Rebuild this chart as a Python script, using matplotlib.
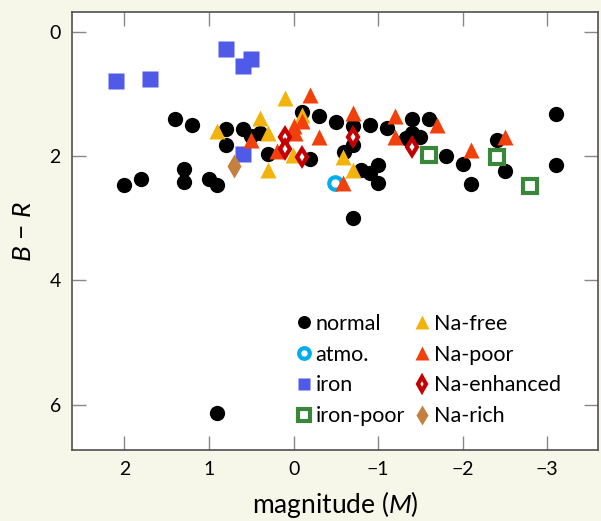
import matplotlib.pyplot as plt

plt.rcParams['font.family'] = ['Lato', 'DejaVu Sans']
plt.rcParams['mathtext.fontset'] = 'custom'
plt.rcParams['mathtext.it'] = 'Lato:italic'
plt.rcParams['mathtext.rm'] = 'Lato'

# magnitude (M) and B - R colour for each group
normal_M = [2.0, 1.8, 1.4, 1.2, 1.3, 1.3, 1.0, 0.9, 0.8, 0.8, 0.6, 0.5, 0.4, 0.3,
            0.9, -0.1, -0.3, -0.2, -0.5, -0.7, -0.7, -0.6, -0.7, -0.9, -1.1, -0.8,
            -0.9, -1.0, -1.0, -1.4, -1.6, -1.33, -1.4, -1.5, -1.8, -2.0, -2.1,
            -2.4, -2.5, -3.1, -3.1]
normal_BR = [2.46, 2.37, 1.41, 1.50, 2.21, 2.42, 2.36, 2.47, 1.57, 1.82, 1.56, 1.67,
             1.63, 1.97, 6.14, 1.29, 1.36, 2.04, 1.45, 1.52, 1.82, 1.93, 3.0, 1.50,
             1.54, 2.23, 2.27, 2.15, 2.43, 1.41, 1.41, 1.71, 1.62, 1.69, 2.0, 2.13,
             2.45, 1.74, 2.24, 1.32, 2.15]

atmo_M = [-0.49]
atmo_BR = [2.44]

iron_M = [2.1, 1.7, 0.8, 0.6, 0.5, 0.6]
iron_BR = [0.79, 0.76, 0.27, 0.55, 0.43, 1.97]

iron_poor_M = [-1.6, -2.4, -2.8]
iron_poor_BR = [1.98, 2.02, 2.48]

na_free_M = [0.9, 0.4, 0.3, 0.3, 0.1, 0.01, -0.1, -0.59, -0.7]
na_free_BR = [1.59, 1.39, 1.63, 2.23, 1.07, 1.98, 1.34, 2.02, 2.23]

na_poor_M = [-0.2, 0.5, 0.2, 0.0, -0.02, -0.1, -0.3, -0.7, -0.59, -1.2, -1.2,
             -1.7, -2.1, -2.5]
na_poor_BR = [1.01, 1.74, 1.91, 1.52, 1.63, 1.44, 1.69, 1.31, 2.44, 1.36, 1.69,
              1.50, 1.90, 1.69]

na_enh_M = [0.1, 0.1, -0.1, -0.7, -1.4]
na_enh_BR = [1.70, 1.89, 2.02, 1.69, 1.86]

na_rich_M = [0.7]
na_rich_BR = [2.16]

fig = plt.figure(figsize=(6.01, 5.21), dpi=100, facecolor='#f7f7e9')
ax = fig.add_axes([72 / 601, 1 - 450 / 521, 526 / 601, 438 / 521])
ax.set_facecolor('white')

ax.plot(normal_M, normal_BR, 'o', ms=11, color='black', mec='none', label='normal')
ax.plot(atmo_M, atmo_BR, 'o', ms=9, mfc='white', mec='#00aeef', mew=3, label='atmo.')
ax.plot(iron_M, iron_BR, 's', ms=11, color='#4f5ae8', mec='none', label='iron')
ax.plot(iron_poor_M, iron_poor_BR, 's', ms=10, mfc='white', mec='#3a863a', mew=3,
        label='iron-poor')
ax.plot(na_free_M, na_free_BR, '^', ms=12, color='#f2b40c', mec='none', label='Na-free')
ax.plot(na_poor_M, na_poor_BR, '^', ms=12, color='#f2400c', mec='none', label='Na-poor')
ax.plot(na_enh_M, na_enh_BR, 'd', ms=8, mfc='white', mec='#c40000', mew=3,
        label='Na-enhanced')
ax.plot(na_rich_M, na_rich_BR, 'd', ms=12.5, color='#c4803e', mec='none', label='Na-rich')

ax.set_xlim(2.62, -3.6)
ax.set_ylim(6.73, -0.32)
ax.set_xticks([2, 1, 0, -1, -2, -3])
ax.set_yticks([0, 2, 4, 6])
ax.tick_params(direction='in', top=True, right=True, length=10, width=1,
               color='#888888', labelsize=14, pad=8)
for s in ax.spines.values():
    s.set_color('#505050')
    s.set_linewidth(1.2)

ax.set_xlabel('magnitude ($M$)', fontsize=19, labelpad=8)
ax.set_ylabel('$B$ − $R$', fontsize=19, labelpad=10)

ax.legend(ncol=2, frameon=False, fontsize=15.5, loc='lower left',
          bbox_to_anchor=(0.41, 0.035), handlelength=0.7, handletextpad=0.2,
          columnspacing=0.45, labelspacing=0.5, markerscale=0.85, borderaxespad=0)

fig.savefig('out.png', dpi=100, facecolor=fig.get_facecolor())
